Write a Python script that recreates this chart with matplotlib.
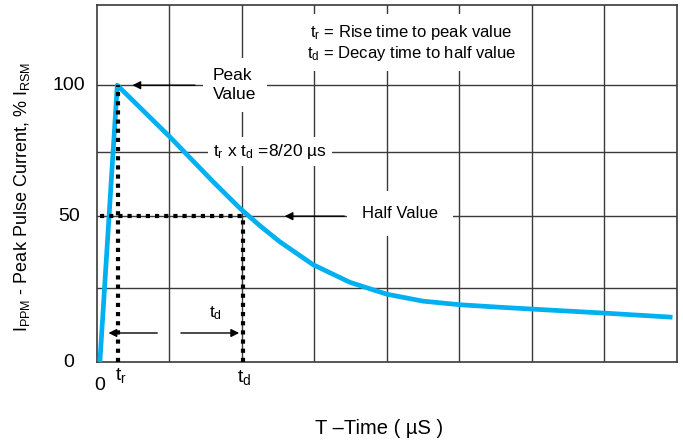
import matplotlib.pyplot as plt

plt.rcParams['font.family'] = ['Liberation Sans', 'DejaVu Sans']
plt.rcParams['mathtext.fontset'] = 'custom'
plt.rcParams['mathtext.rm'] = 'Liberation Sans'
plt.rcParams['mathtext.it'] = 'Liberation Sans:italic'

# Pulse waveform (time in grid units, current in %)
time_us = [0.4, 2.8, 10.1, 16.0, 19.7, 22.5, 25.2, 29.8, 34.9, 40.0, 45.0, 50.1, 55.6, 60.3, 69.9, 79.4]
current = [0, 100, 81.2, 65.2, 55.6, 49.2, 43.5, 35.2, 28.8, 24.5, 22.0, 20.7, 19.8, 19.1, 17.7, 16.2]

t_rise = 2.9
t_decay = 20.1
half_value = 52.7

x_grid = [10, 20, 30, 40, 50, 60, 70]
y_grid = [26.7, 52.7, 75.8, 100]
y_ticks = [0, 50, 100]
y_tick_pos = [0, 52.7, 100]

fig = plt.figure(figsize=(6.83, 4.47), dpi=100)
ax = fig.add_axes([0.142, 0.190, 0.849, 0.799])
ax.set_xlim(0, 80)
ax.set_ylim(0, 129)

# grid
for gx in x_grid:
    ax.axvline(gx, color='#3a3a3a', lw=1, zorder=1)
for gy in y_grid:
    ax.axhline(gy, color='#3a3a3a', lw=1, zorder=1)
for s in ax.spines.values():
    s.set_color('#3a3a3a')
    s.set_linewidth(1.2)
ax.set_xticks([])
ax.set_yticks([])

# waveform
ax.plot(time_us, current, color='#00b0f0', lw=3.4, solid_capstyle='butt',
        solid_joinstyle='round', zorder=3)

# dotted markers for tr / td
dot = dict(color='black', lw=3, linestyle=(0, (1, 1.2)), zorder=4)
ax.plot([t_rise, t_rise], [0, 100], **dot)
ax.plot([0.4, t_decay], [half_value, half_value], **dot)
ax.plot([t_decay, t_decay], [0, half_value], **dot)

# arrows
arr = dict(arrowstyle='-|>', color='black', lw=1, mutation_scale=12)
ax.annotate('', xy=(4.5, 100), xytext=(13.9, 100), arrowprops=arr, zorder=5)
ax.annotate('', xy=(25.5, half_value), xytext=(34.5, half_value), arrowprops=arr, zorder=5)
ax.annotate('', xy=(1.2, 10.5), xytext=(8.7, 10.5), arrowprops=arr, zorder=5)
ax.annotate('', xy=(20.0, 10.5), xytext=(11.2, 10.5), arrowprops=arr, zorder=5)

white = dict(facecolor='white', edgecolor='none')

ax.text(43.4, 115.3, '$\\mathregular{t_r}$ = Rise time to peak value\n'
        '$\\mathregular{t_d}$ = Decay time to half value',
        ha='center', va='center', fontsize=12, linespacing=1.15,
        bbox=dict(boxstyle='square,pad=0.5', **white), zorder=6)
ax.text(16.0, 100, 'Peak\nValue', ha='left', va='center', fontsize=12.5,
        linespacing=1.3, bbox=dict(boxstyle='square,pad=0.6', **white), zorder=6)
ax.text(16.0, 76.0, '$\\mathregular{t_r}$ x $\\mathregular{t_d}$ =8/20 µs', ha='left',
        va='center', fontsize=12.5, bbox=dict(boxstyle='square,pad=0.3', **white), zorder=6)
ax.text(36.5, half_value + 0.8, 'Half Value', ha='left', va='center', fontsize=12,
        bbox=dict(boxstyle='square,pad=0.9', **white), zorder=6)
ax.text(16.3, 17.7, '$\\mathregular{t_d}$', ha='center', va='center', fontsize=12.5, zorder=6)

# tick labels
for v, p in zip(y_ticks, y_tick_pos):
    ax.text(-3.9, p, str(v), ha='center', va='center', fontsize=14, clip_on=False)
ax.text(0.4, -8.3, '0', ha='center', va='center', fontsize=14, clip_on=False)
ax.text(t_rise + 0.4, -4.9, '$\\mathregular{t_r}$', ha='center', va='center', fontsize=14, clip_on=False)
ax.text(t_decay + 0.2, -5.4, '$\\mathregular{t_d}$', ha='center', va='center', fontsize=14, clip_on=False)

fig.text(379 / 683, 1 - 428 / 447, 'T –Time ( µS )', ha='center', va='center', fontsize=14.5)
fig.text(22 / 683, 1 - 197 / 447,
         '$\\mathregular{I_{PPM}}$ - Peak Pulse Current, % $\\mathregular{I_{RSM}}$',
         ha='center', va='center', rotation=90, fontsize=13)

fig.savefig('out.png', dpi=100)
